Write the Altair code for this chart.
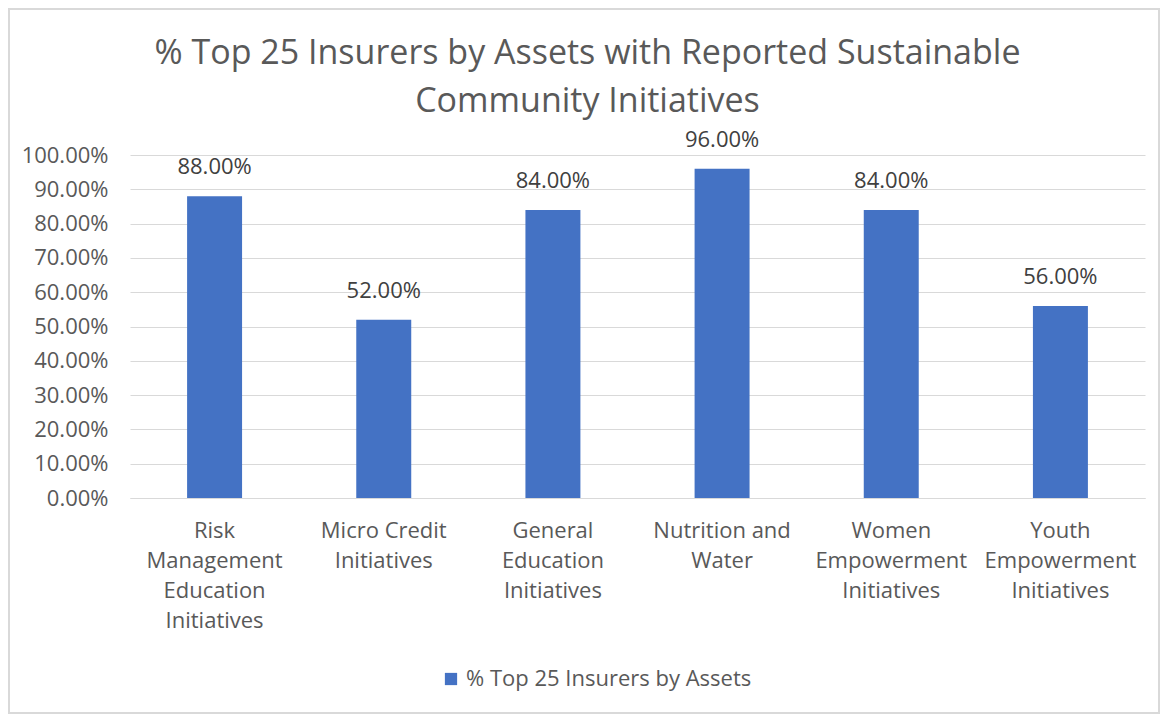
import altair as alt
import pandas as pd

categories = [
    "Risk|Management|Education|Initiatives",
    "Micro Credit|Initiatives",
    "General|Education|Initiatives",
    "Nutrition and|Water",
    "Women|Empowerment|Initiatives",
    "Youth|Empowerment|Initiatives",
]
values = [0.88, 0.52, 0.84, 0.96, 0.84, 0.56]
series_name = "% Top 25 Insurers by Assets"
y_ticks = [0.0, 0.1, 0.2, 0.3, 0.4, 0.5, 0.6, 0.7, 0.8, 0.9, 1.0]

df = pd.DataFrame({"category": categories, "value": values, "series": series_name})

FONT = "Open Sans"
GRAY = "#595959"
FS = 22

x_enc = alt.X(
    "category:N",
    sort=categories,
    title=None,
    scale=alt.Scale(paddingInner=0.675, paddingOuter=0.3375),
    axis=alt.Axis(
        labelAngle=0,
        labelExpr="split(datum.label, '|')",
        labelLineHeight=30,
        labelFontSize=FS,
        labelFont=FONT,
        labelColor=GRAY,
        labelPadding=32,
        labelBaseline="middle",
        ticks=False,
        grid=False,
        domain=True,
        domainColor="#d9d9d9",
        labelLimit=300,
    ),
)

y_enc = alt.Y(
    "value:Q",
    title=None,
    scale=alt.Scale(domain=[0, 1], nice=False),
    axis=alt.Axis(
        values=y_ticks,
        format=".2%",
        labelFontSize=FS,
        labelFont=FONT,
        labelColor=GRAY,
        labelPadding=22,
        labelOverlap=False,
        ticks=False,
        domain=False,
        gridColor="#d9d9d9",
        gridWidth=1,
    ),
)

base = alt.Chart(df).encode(x=x_enc, y=y_enc)

bars = base.mark_bar(color="#4472C4").encode(
    color=alt.Color(
        "series:N",
        scale=alt.Scale(range=["#4472C4"]),
        legend=alt.Legend(
            title=None,
            orient="none",
            legendX=310,
            legendY=513,
            symbolType="square",
            symbolSize=150,
            symbolStrokeWidth=0,
            labelFontSize=FS,
            labelFont=FONT,
            labelColor=GRAY,
            labelLimit=500,
        ),
    ),
)

labels = base.mark_text(
    baseline="middle", dy=-29, fontSize=FS, font=FONT, color="#404040"
).encode(
    text=alt.Text("value:Q", format=".2%"),
)

border = alt.Chart(df).mark_rect(fill=None, stroke="#d9d9d9", strokeWidth=1.5).encode(
    x=alt.value(-121), x2=alt.value(1029), y=alt.value(-146), y2=alt.value(558)
)

chart = (
    alt.layer(border, bars, labels)
    .properties(
        width=1015,
        height=343,
        view=alt.ViewBackground(stroke="transparent", strokeWidth=0),
        autosize=alt.AutoSizeParams(type="none"),
        padding={"left": 122, "top": 147, "right": 23, "bottom": 216},
        title=alt.Title(
            ["% Top 25 Insurers by Assets with Reported Sustainable", "Community Initiatives"],
            fontSize=34,
            font=FONT,
            fontWeight="normal",
            color=GRAY,
            anchor="middle",
            frame="group",
            dx=-50,
            offset=-111,
            lineHeight=48,
        ),
    )
    .configure_view(stroke="transparent", strokeWidth=0)
    .configure(background="white")
)

chart.save("out.html", embed_options={"renderer": "svg", "actions": False})
